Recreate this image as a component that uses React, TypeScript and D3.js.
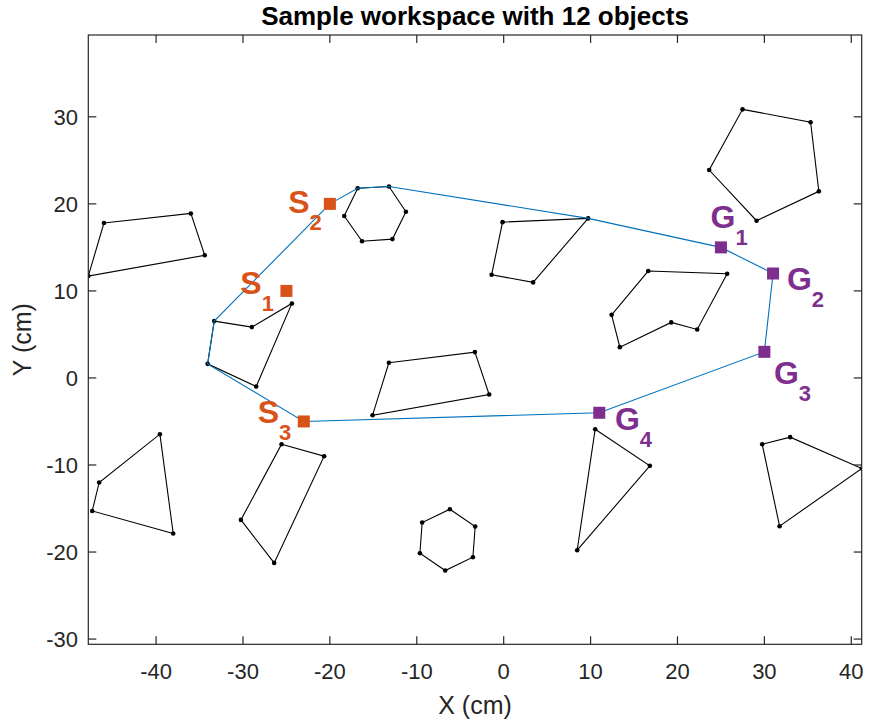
import React from "react";
import * as d3 from "d3";

const W = 870;
const H = 723;

const xTicks = [-40, -30, -20, -10, 0, 10, 20, 30, 40];
const yTicks = [-30, -20, -10, 0, 10, 20, 30];

const titleText = "Sample workspace with 12 objects";
const xLabel = "X (cm)";
const yLabel = "Y (cm)";

// obstacle polygons (vertices in cm)
const obstacles: [number, number][][] = [
  [[-46.0, 17.8], [-36.0, 18.9], [-34.4, 14.1], [-47.8, 11.7]],
  [[-16.8, 21.8], [-13.2, 22.0], [-11.25, 19.1], [-12.8, 15.95], [-16.3, 15.7], [-18.35, 18.6]],
  [[-0.13, 17.9], [9.72, 18.33], [3.39, 10.98], [-1.39, 11.85]],
  [[27.49, 30.86], [35.32, 29.37], [36.27, 21.44], [29.1, 18.06], [23.65, 23.89]],
  [[16.63, 12.28], [25.72, 11.97], [22.27, 5.57], [19.28, 6.38], [13.37, 3.54], [12.42, 7.25]],
  [[-33.31, 6.53], [-28.98, 5.84], [-24.37, 8.56], [-28.48, -0.98], [-34.07, 1.62]],
  [[-13.21, 1.74], [-3.31, 2.97], [-1.67, -1.9], [-15.09, -4.28]],
  [[-39.56, -6.46], [-38.03, -17.87], [-47.35, -15.28], [-46.55, -12.01]],
  [[-25.56, -7.61], [-20.66, -8.99], [-26.41, -21.25], [-30.24, -16.31]],
  [[-6.19, -15.08], [-3.28, -17.07], [-3.54, -20.6], [-6.73, -22.13], [-9.64, -20.14], [-9.38, -16.61]],
  [[10.53, -5.89], [16.82, -10.1], [8.46, -19.79]],
  [[29.75, -7.61], [32.97, -6.8], [41.22, -10.4], [31.75, -17.03]],
];

// planned tour (closed)
const tour: [number, number][] = [
  [-20, 20], [-16.8, 21.8], [-13.2, 22.0], [9.72, 18.33], [25, 15], [31, 12],
  [30, 3], [11, -4], [-23, -5], [-34.07, 1.62], [-33.31, 6.53], [-20, 20],
];

const startIds = ["1", "2", "3"];
const startPts: [number, number][] = [[-25, 10], [-20, 20], [-23, -5]];
const startLabelPos: [number, number][] = [[-30.3, 9.7], [-24.8, 19.0], [-28.3, -5.2]];

const goalIds = ["1", "2", "3", "4"];
const goalPts: [number, number][] = [[25, 15], [31, 12], [30, 3], [11, -4]];
const goalLabelPos: [number, number][] = [[23.8, 17.2], [32.6, 10.1], [31.1, -0.7], [12.8, -6.0]];

const FONT = "'Liberation Sans', Arial, Helvetica, sans-serif";

export default function App() {
  const left = 88.3, right = 861.7, top = 35, bottom = 644.3;
  const x = d3.scaleLinear().domain([-47.8, 41.2]).range([left, right]);
  const y = d3.scaleLinear().domain([-30.6, 39.4]).range([bottom, top]);
  const line = d3.line<[number, number]>().x((d) => x(d[0])).y((d) => y(d[1]));
  const poly = d3
    .line<[number, number]>()
    .x((d) => x(d[0]))
    .y((d) => y(d[1]))
    .curve(d3.curveLinearClosed);

  const axisColor = "#262626";
  const tickLen = 8;
  const sq = 12;
  const orange = "#D95319";
  const purple = "#7E2F8E";

  const markLabel = (
    letter: string,
    pos: [number, number],
    id: string,
    color: string,
    key: string
  ) => (
    <text
      key={key}
      x={x(pos[0])}
      y={y(pos[1])}
      fill={color}
      fontFamily={FONT}
      fontWeight="bold"
      fontSize={32}
    >
      {letter}
      <tspan dy={17} fontSize={22}>
        {id}
      </tspan>
    </text>
  );

  return (
    <svg
      width={W}
      height={H}
      style={{ position: "absolute", left: 0, top: 0, background: "#fff" }}
    >
      <rect x={0} y={0} width={W} height={H} fill="#fff" />
      <defs>
        <clipPath id="plotclip">
          <rect x={left} y={top} width={right - left} height={bottom - top} />
        </clipPath>
      </defs>

      <g clipPath="url(#plotclip)">
        {obstacles.map((p, i) => (
          <g key={"o" + i}>
            <path d={poly(p) || ""} fill="none" stroke="#000" strokeWidth={1.1} />
            {p.map((v, j) => (
              <circle key={j} cx={x(v[0])} cy={y(v[1])} r={2.3} fill="#000" />
            ))}
          </g>
        ))}
        <path d={line(tour) || ""} fill="none" stroke="#0072BD" strokeWidth={1.1} />
        {startPts.map((p, i) => (
          <rect
            key={"s" + i}
            x={x(p[0]) - sq / 2}
            y={y(p[1]) - sq / 2}
            width={sq}
            height={sq}
            fill={orange}
          />
        ))}
        {goalPts.map((p, i) => (
          <rect
            key={"g" + i}
            x={x(p[0]) - sq / 2}
            y={y(p[1]) - sq / 2}
            width={sq}
            height={sq}
            fill={purple}
          />
        ))}
      </g>

      {startLabelPos.map((p, i) => markLabel("S", p, startIds[i], orange, "sl" + i))}
      {goalLabelPos.map((p, i) => markLabel("G", p, goalIds[i], purple, "gl" + i))}

      <rect
        x={left}
        y={top}
        width={right - left}
        height={bottom - top}
        fill="none"
        stroke={axisColor}
        strokeWidth={1.2}
      />
      {xTicks.map((t) => (
        <g key={"xt" + t}>
          <line x1={x(t)} x2={x(t)} y1={bottom} y2={bottom - tickLen} stroke={axisColor} strokeWidth={1.2} />
          <line x1={x(t)} x2={x(t)} y1={top} y2={top + tickLen} stroke={axisColor} strokeWidth={1.2} />
          <text
            x={x(t)}
            y={679}
            textAnchor="middle"
            fontFamily={FONT}
            fontSize={22}
            fill={axisColor}
          >
            {t}
          </text>
        </g>
      ))}
      {yTicks.map((t) => (
        <g key={"yt" + t}>
          <line x1={left} x2={left + tickLen} y1={y(t)} y2={y(t)} stroke={axisColor} strokeWidth={1.2} />
          <line x1={right} x2={right - tickLen} y1={y(t)} y2={y(t)} stroke={axisColor} strokeWidth={1.2} />
          <text
            x={78}
            y={y(t) + 8}
            textAnchor="end"
            fontFamily={FONT}
            fontSize={22}
            fill={axisColor}
          >
            {t}
          </text>
        </g>
      ))}

      <text
        x={(left + right) / 2}
        y={714}
        textAnchor="middle"
        fontFamily={FONT}
        fontSize={25}
        fill={axisColor}
      >
        {xLabel}
      </text>
      <text
        transform={`translate(31, ${(top + bottom) / 2}) rotate(-90)`}
        textAnchor="middle"
        fontFamily={FONT}
        fontSize={25}
        fill={axisColor}
      >
        {yLabel}
      </text>
      <text
        x={(left + right) / 2}
        y={25}
        textAnchor="middle"
        fontFamily={FONT}
        fontWeight="bold"
        fontSize={26}
        fill="#000"
      >
        {titleText}
      </text>
    </svg>
  );
}
